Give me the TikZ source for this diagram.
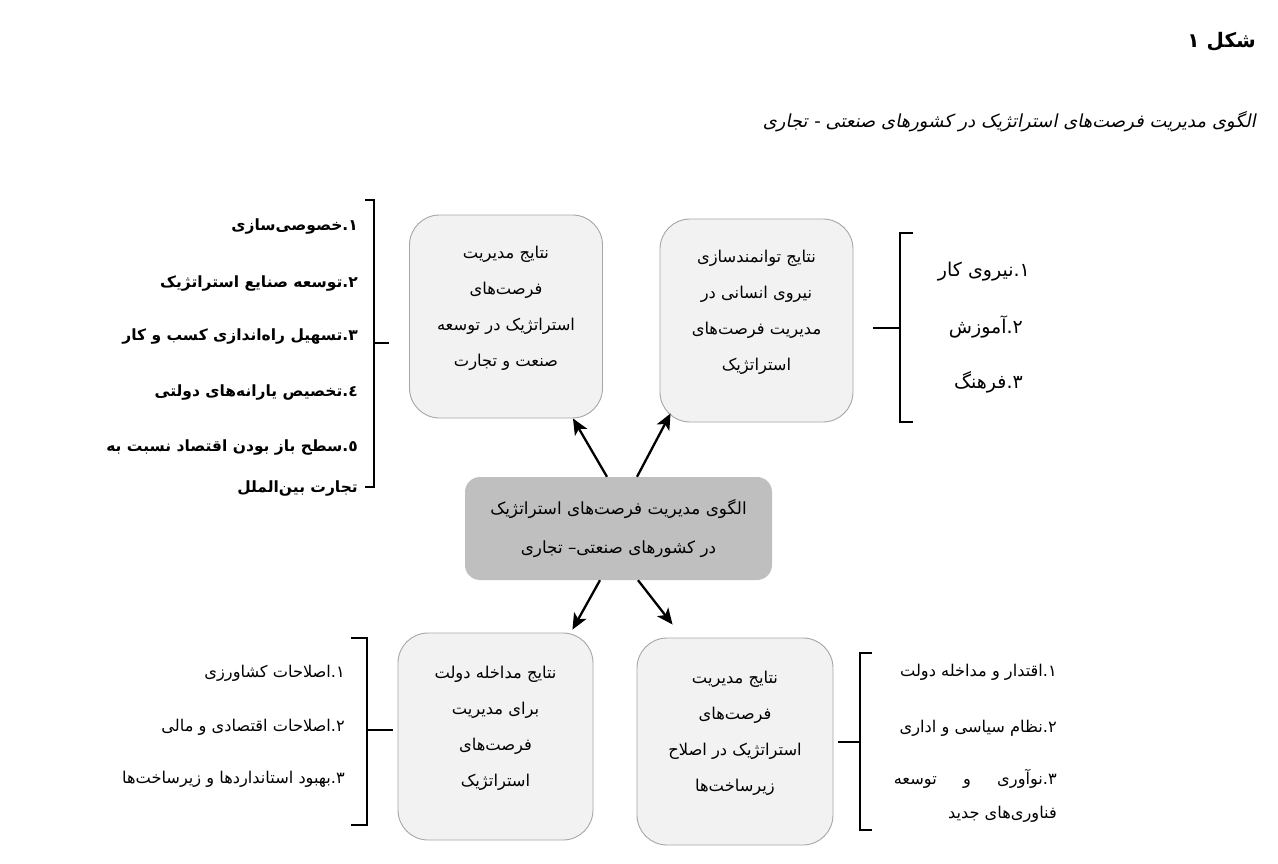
\documentclass[tikz,border=0pt]{standalone}
\usepackage{fontspec}
\usetikzlibrary{arrows.meta}
\TeXXeTstate=1
\newfontfamily\fa[Script=Arabic]{DejaVu Sans}
\newfontfamily\fait[Script=Arabic,FakeSlant=0.2]{DejaVu Sans}
\newcommand{\rtxt}[1]{\beginR #1\endR}
\definecolor{boxfill}{HTML}{F2F2F2}
\definecolor{boxline}{HTML}{A6A6A6}
\definecolor{corefill}{HTML}{BFBFBF}
\begin{document}
\begin{tikzpicture}[x=1pt,y=-1pt,
  box/.style={draw=boxline, line width=0.9pt, fill=boxfill, rounded corners=30pt, align=center, inner sep=0pt, font=\fa\fontsize{16.3}{36}\selectfont},
  core/.style={fill=corefill, rounded corners=15pt, align=center, inner sep=0pt, font=\fa\fontsize{16.8}{39}\selectfont},
  item/.style={anchor=east, inner sep=0pt, align=right, font=\fa\fontsize{16.2}{34}\selectfont},
  titem/.style={anchor=east, inner sep=0pt, font=\fa\fontsize{19}{24}\selectfont},
  bitem/.style={anchor=east, inner sep=0pt, align=right, font=\fa\bfseries\fontsize{15.5}{41}\selectfont},
  arr/.style={line width=2.3pt, -{Stealth[length=16pt,width=14pt,inset=4pt]}},
  brk/.style={line width=1.8pt}]
\useasboundingbox (0,0) rectangle (1278,863);

\node[anchor=east, inner sep=0pt, font=\fa\bfseries\fontsize{20}{24}\selectfont] (title) at (1256,42) {\rtxt{شکل ۱}};
\node[anchor=east, inner sep=0pt, font=\fait\fontsize{18}{22}\selectfont] (subtitle) at (1256,122) {\rtxt{الگوی مدیریت فرصت‌های استراتژیک در کشورهای صنعتی - تجاری}};

\node[box, minimum width=193pt, minimum height=203pt] (tl) at (506,316.5)
  {\rtxt{نتایج مدیریت}\\\rtxt{فرصت‌های}\\\rtxt{استراتژیک در توسعه}\\\rtxt{صنعت و تجارت}\\[-15pt]\mbox{}};
\node[box, minimum width=193pt, minimum height=203pt] (tr) at (756.5,320.5)
  {\rtxt{نتایج توانمندسازی}\\\rtxt{نیروی انسانی در}\\\rtxt{مدیریت فرصت‌های}\\\rtxt{استراتژیک}\\[-15pt]\mbox{}};
\node[core, minimum width=307pt, minimum height=103pt] (core) at (618.5,528.5)
  {\rtxt{الگوی مدیریت فرصت‌های استراتژیک}\\\rtxt{در کشورهای صنعتی– تجاری}};
\node[box, minimum width=195pt, minimum height=207pt] (bl) at (495.5,736.5)
  {\rtxt{نتایج مداخله دولت}\\\rtxt{برای مدیریت}\\\rtxt{فرصت‌های}\\\rtxt{استراتژیک}\\[-15pt]\mbox{}};
\node[box, minimum width=196pt, minimum height=207pt] (br) at (735,741.5)
  {\rtxt{نتایج مدیریت}\\\rtxt{فرصت‌های}\\\rtxt{استراتژیک در اصلاح}\\\rtxt{زیرساخت‌ها}\\[-15pt]\mbox{}};

\draw[arr] ([xshift=-11.5pt]core.north) -- ([xshift=-30pt]tl.south east);
\draw[arr] ([xshift=18.5pt]core.north) -- ([xshift=11pt,yshift=9pt]tr.south west);
\draw[arr] ([xshift=-18.5pt]core.south) -- ([xshift=-21pt,yshift=3pt]bl.north east);
\draw[arr] ([xshift=19.5pt]core.south) -- ([xshift=36pt,yshift=13pt]br.north west);

% brackets
\draw[brk] (365,200) -- (374,200) -- (374,487) -- (365,487);
\draw[brk] (374,343) -- (389,343);
\draw[brk] (913,233) -- (900,233) -- (900,422) -- (913,422);
\draw[brk] (873,328) -- (900,328);
\draw[brk] (351,638) -- (367,638) -- (367,825) -- (351,825);
\draw[brk] (367,730) -- (393,730);
\draw[brk] (872,653) -- (860,653) -- (860,830) -- (872,830);
\draw[brk] (838,742) -- (860,742);

% top-left list
\node[bitem] (a1) at (358,226) {\rtxt{۱.خصوصی‌سازی}};
\node[bitem] (a2) at (358,283) {\rtxt{۲.توسعه صنایع استراتژیک}};
\node[bitem] (a3) at (358,337) {\rtxt{۳.تسهیل راه‌اندازی کسب و کار}};
\node[bitem] (a4) at (358,392) {\rtxt{٤.تخصیص یارانه‌های دولتی}};
\node[bitem] (a5) at (358,467.5) {\rtxt{٥.سطح باز بودن اقتصاد نسبت به}\\\rtxt{تجارت بین‌الملل}};

% top-right list
\node[titem] (b1) at (1030,272) {\rtxt{۱.نیروی کار}};
\node[titem] (b2) at (1023,327) {\rtxt{۲.آموزش}};
\node[titem] (b3) at (1023,382) {\rtxt{۳.فرهنگ}};

% bottom-left list
\node[item] (c1) at (345,673) {\rtxt{۱.اصلاحات کشاورزی}};
\node[item] (c2) at (345,727) {\rtxt{۲.اصلاحات اقتصادی و مالی}};
\node[item] (c3) at (345,779) {\rtxt{۳.بهبود استانداردها و زیرساخت‌ها}};

% bottom-right list
\node[item] (d1) at (1057,672) {\rtxt{۱.اقتدار و مداخله دولت}};
\node[item] (d2) at (1057,728) {\rtxt{۲.نظام سیاسی و اداری}};
\node[item] (d3) at (1057,796) {\hbox to 163pt{\beginR ۳.نوآوری\hfill و\hfill توسعه\endR}\\\rtxt{فناوری‌های جدید}};
\end{tikzpicture}
\end{document}
